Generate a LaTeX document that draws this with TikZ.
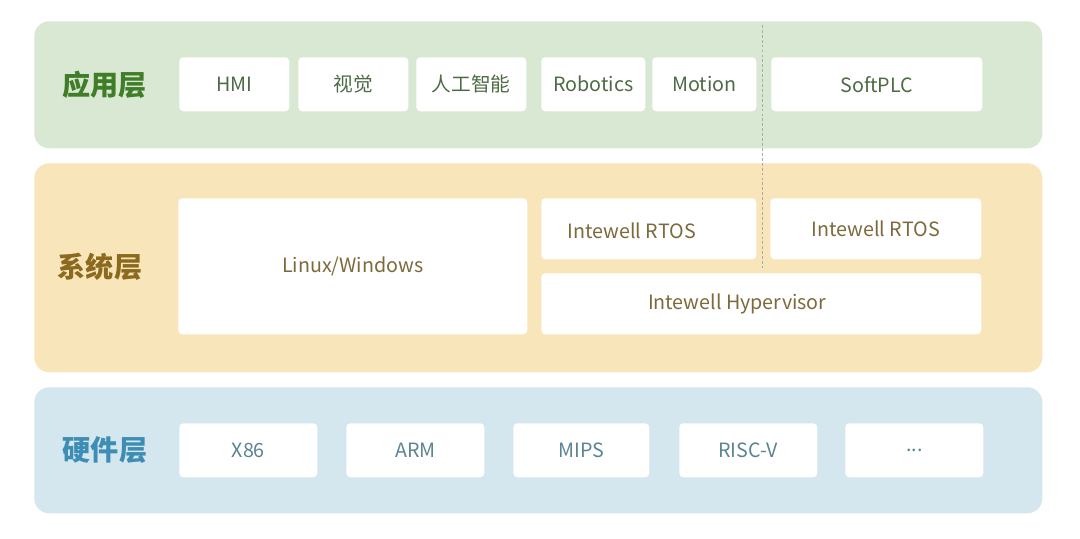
\documentclass[tikz,border=0pt]{standalone}
\usepackage{fontspec}
\setmainfont{Noto Sans CJK SC}
\usetikzlibrary{positioning}
\definecolor{appfill}{RGB}{217,232,210}
\definecolor{apptext}{RGB}{63,125,40}
\definecolor{appbox}{RGB}{77,107,69}
\definecolor{sysfill}{RGB}{248,230,186}
\definecolor{systext}{RGB}{139,106,31}
\definecolor{sysbox}{RGB}{125,106,60}
\definecolor{hwfill}{RGB}{212,230,238}
\definecolor{hwtext}{RGB}{61,141,181}
\definecolor{hwbox}{RGB}{91,133,146}
\definecolor{splitgray}{RGB}{170,170,170}

\begin{document}
\begin{tikzpicture}[
  font=\fontsize{14pt}{16pt}\selectfont,
  layer/.style={draw=none, rounded corners=0.375cm, minimum width=25.20cm,
                anchor=north west, inner sep=0pt},
  title/.style={font=\fontsize{20pt}{22pt}\selectfont\bfseries},
  cell/.style={draw=none, fill=white, rounded corners=0.1cm,
               anchor=north west, align=center, inner sep=2pt},
  row/.style={cell, minimum height=1.35cm}
]
\useasboundingbox[fill=white] (0,0) rectangle (27,13.45);

% Drei Schichten
\node[layer, fill=appfill, minimum height=3.175cm] (applayer) at (0.85,12.925) {};
\node[layer, fill=sysfill, minimum height=5.225cm] (syslayer) at (0.85,9.375) {};
\node[layer, fill=hwfill, minimum height=3.15cm] (hwlayer) at (0.85,3.775) {};

\node[title, text=apptext] (apptitle) at (2.6125,11.3375) {应用层};
\node[title, text=systext] (systitle) at (2.50,6.7875) {系统层};
\node[title, text=hwtext] (hwtitle) at (2.625,2.1875) {硬件层};

% Anwendungen
\node[row, text=appbox, minimum width=2.75cm] (hmi) at (4.475,12.025) {HMI};
\node[row, text=appbox, minimum width=2.75cm] (vision) at (7.45,12.025) {视觉};
\node[row, text=appbox, minimum width=2.75cm] (ai) at (10.40,12.025) {人工智能};
\node[row, text=appbox, minimum width=2.60cm] (robotics) at (13.525,12.025) {Robotics};
\node[row, text=appbox, minimum width=2.60cm] (motion) at (16.30,12.025) {Motion};
\node[row, text=appbox, minimum width=5.275cm] (softplc) at (19.275,12.025) {SoftPLC};

% Systeme
\node[cell, text=sysbox, minimum width=8.725cm, minimum height=3.40cm]
  (linux) at (4.45,8.50) {Linux/Windows};
\node[cell, minimum width=5.375cm, minimum height=1.525cm,
  label={[text=sysbox, xshift=-0.425cm, yshift=-0.05cm]center:Intewell RTOS}]
  (rtosa) at (13.525,8.50) {};
\node[cell, text=sysbox, minimum width=5.275cm, minimum height=1.525cm]
  (rtosb) at (19.25,8.50) {Intewell RTOS};
\node[cell, minimum width=11.00cm, minimum height=1.525cm,
  label={[text=sysbox, xshift=-0.60cm]center:Intewell Hypervisor}]
  (hyper) at (13.525,6.625) {};

% Trennlinie
\coordinate (splittop) at (19.05,12.825);
\coordinate (splitbot) at (19.05,6.75);
\draw[splitgray, dash pattern=on 2pt off 1.5pt, line width=0.6pt] (splittop) -- (splitbot);

% Hardware
\node[row, text=hwbox, minimum width=3.45cm] (x86) at (4.475,2.875) {X86};
\node[row, text=hwbox, minimum width=3.45cm] (arm) at (8.65,2.875) {ARM};
\node[row, text=hwbox, minimum width=3.40cm] (mips) at (12.825,2.875) {MIPS};
\node[row, text=hwbox, minimum width=3.45cm] (riscv) at (16.975,2.875) {RISC-V};
\node[row, text=hwbox, minimum width=3.45cm] (more) at (21.125,2.875) {...};

\end{tikzpicture}
\end{document}
